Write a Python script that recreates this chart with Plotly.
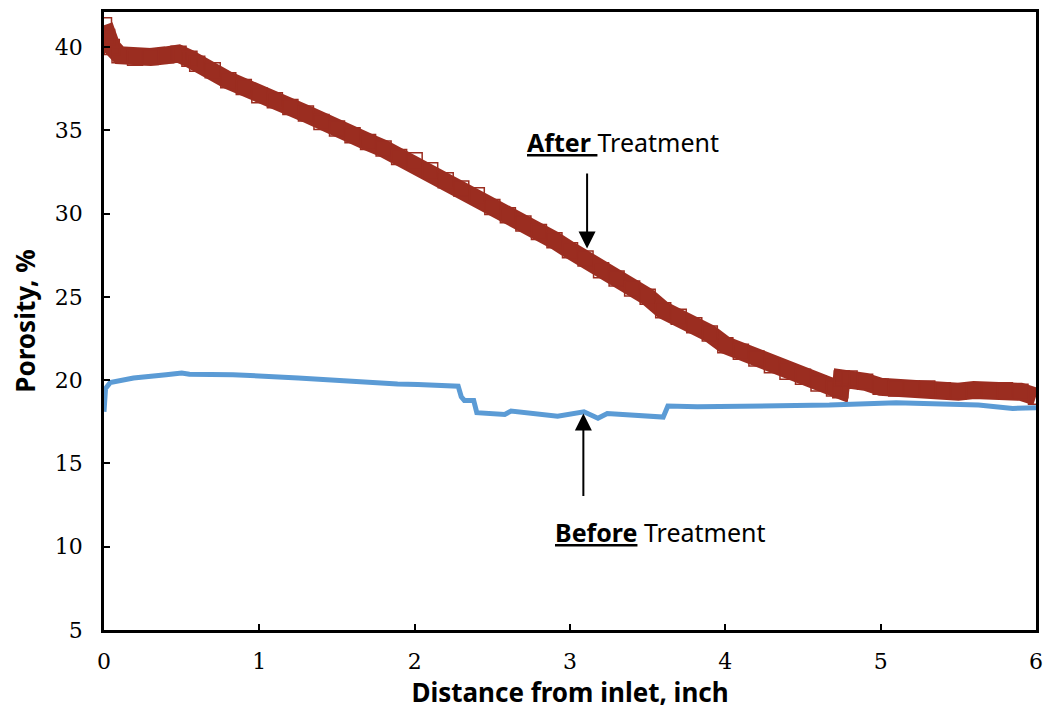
import plotly.graph_objects as go

# After treatment (inch, porosity %)
after_x = [0.00, 0.02, 0.05, 0.10, 0.20, 0.30, 0.40, 0.48, 0.55, 0.60, 0.70, 0.80, 0.90,
           1.00, 1.10, 1.20, 1.30, 1.40, 1.50, 1.60, 1.70, 1.80, 1.90, 2.00, 2.10, 2.20,
           2.30, 2.40, 2.50, 2.60, 2.70, 2.80, 2.90, 3.00, 3.10, 3.20, 3.30, 3.40, 3.50,
           3.60, 3.70, 3.80, 3.90, 4.00, 4.10, 4.20, 4.30, 4.40, 4.50, 4.60, 4.70, 4.74,
           4.75, 4.80, 4.90, 5.00, 5.10, 5.20, 5.30, 5.40, 5.50, 5.60, 5.70, 5.80, 5.90, 6.00]
after_y = [41.3, 40.6, 40.0, 39.5, 39.35, 39.4, 39.5, 39.6, 39.3, 39.0, 38.6, 38.0, 37.6,
           37.1, 36.8, 36.4, 36.0, 35.5, 35.1, 34.7, 34.3, 33.9, 33.4, 33.2, 32.6, 32.0,
           31.5, 31.1, 30.4, 29.9, 29.4, 28.9, 28.4, 27.8, 27.3, 26.6, 26.1, 25.5, 25.0,
           24.2, 23.8, 23.3, 22.8, 22.1, 21.7, 21.3, 20.9, 20.5, 20.2, 19.8, 19.5, 19.4,
           20.1, 20.1, 19.9, 19.6, 19.5, 19.5, 19.5, 19.4, 19.3, 19.4, 19.4, 19.4, 19.3, 19.0]

# Before treatment
before_x = [0.000, 0.010, 0.04, 0.19, 0.40, 0.50, 0.55, 0.83, 1.25, 1.57, 1.89, 2.02, 2.28,
            2.30, 2.32, 2.38, 2.40, 2.58, 2.62, 2.92, 3.09, 3.18, 3.24, 3.60, 3.63, 3.82,
            4.67, 5.10, 5.63, 5.85, 6.00]
before_y = [18.1, 19.5, 19.85, 20.13, 20.33, 20.43, 20.35, 20.33, 20.13, 19.93, 19.77, 19.74, 19.64,
            19.0, 18.78, 18.78, 18.05, 17.94, 18.14, 17.84, 18.1, 17.71, 18.0, 17.78, 18.44, 18.4,
            18.5, 18.64, 18.5, 18.3, 18.34]

x_ticks = [0, 1, 2, 3, 4, 5, 6]
y_ticks = [5, 10, 15, 20, 25, 30, 35, 40]

RED = "#9B2D20"
BLUE = "#5B9BD5"

fig = go.Figure()
fig.add_trace(go.Scatter(
    x=after_x, y=after_y, mode="lines+markers",
    line=dict(color=RED, width=18),
    marker=dict(symbol="square-open", size=15, color=RED, line=dict(color=RED, width=1.5)),
    showlegend=False,
))
fig.add_trace(go.Scatter(
    x=before_x, y=before_y, mode="lines",
    line=dict(color=BLUE, width=5),
    showlegend=False,
))

ann_font = dict(family="Noto Sans, Open Sans, sans-serif", size=25, color="black")
fig.add_annotation(x=3.34, y=34.3, xref="x", yref="y",
                   text="<b><span style='text-decoration:underline'>After </span></b>Treatment",
                   showarrow=False, font=ann_font)
fig.add_annotation(x=3.11, y=27.9, ax=3.11, ay=32.5, xref="x", yref="y", axref="x", ayref="y",
                   text="", showarrow=True, arrowhead=2, arrowsize=1.7, arrowwidth=2, arrowcolor="black")
fig.add_annotation(x=3.58, y=10.9, xref="x", yref="y",
                   text="<b><span style='text-decoration:underline'>Before</span></b> Treatment",
                   showarrow=False, font=ann_font)
fig.add_annotation(x=3.086, y=18.0, ax=3.086, ay=12.95, xref="x", yref="y", axref="x", ayref="y",
                   text="", showarrow=True, arrowhead=2, arrowsize=1.7, arrowwidth=2, arrowcolor="black")

tick_font = dict(family="DejaVu Serif", size=22, color="black")
title_font = dict(family="Noto Sans, Open Sans, sans-serif", size=26, color="black")

fig.update_layout(
    width=1052, height=715,
    margin=dict(l=104, r=11, t=9, b=85),
    paper_bgcolor="white", plot_bgcolor="white",
    xaxis=dict(
        range=[0, 6], tickmode="array", tickvals=x_ticks, ticktext=[str(v) for v in x_ticks],
        showgrid=False, zeroline=False,
        showline=True, linecolor="black", linewidth=2.5, mirror=True,
        ticks="inside", ticklen=6, tickwidth=1.5, tickcolor="black",
        tickfont=tick_font, ticklabelstandoff=10,
        title=dict(text="<b>Distance from inlet, inch</b>", font=title_font, standoff=4),
    ),
    yaxis=dict(
        range=[5, 42.1], tickmode="array", tickvals=y_ticks, ticktext=[str(v) for v in y_ticks],
        showgrid=False, zeroline=False,
        showline=True, linecolor="black", linewidth=2.5, mirror=True,
        ticks="inside", ticklen=6, tickwidth=1.5, tickcolor="black",
        tickfont=tick_font, ticklabelstandoff=14,
        title=dict(text="<b>Porosity, %</b>", font=title_font, standoff=12),
    ),
)
fig.write_html("out.html")
